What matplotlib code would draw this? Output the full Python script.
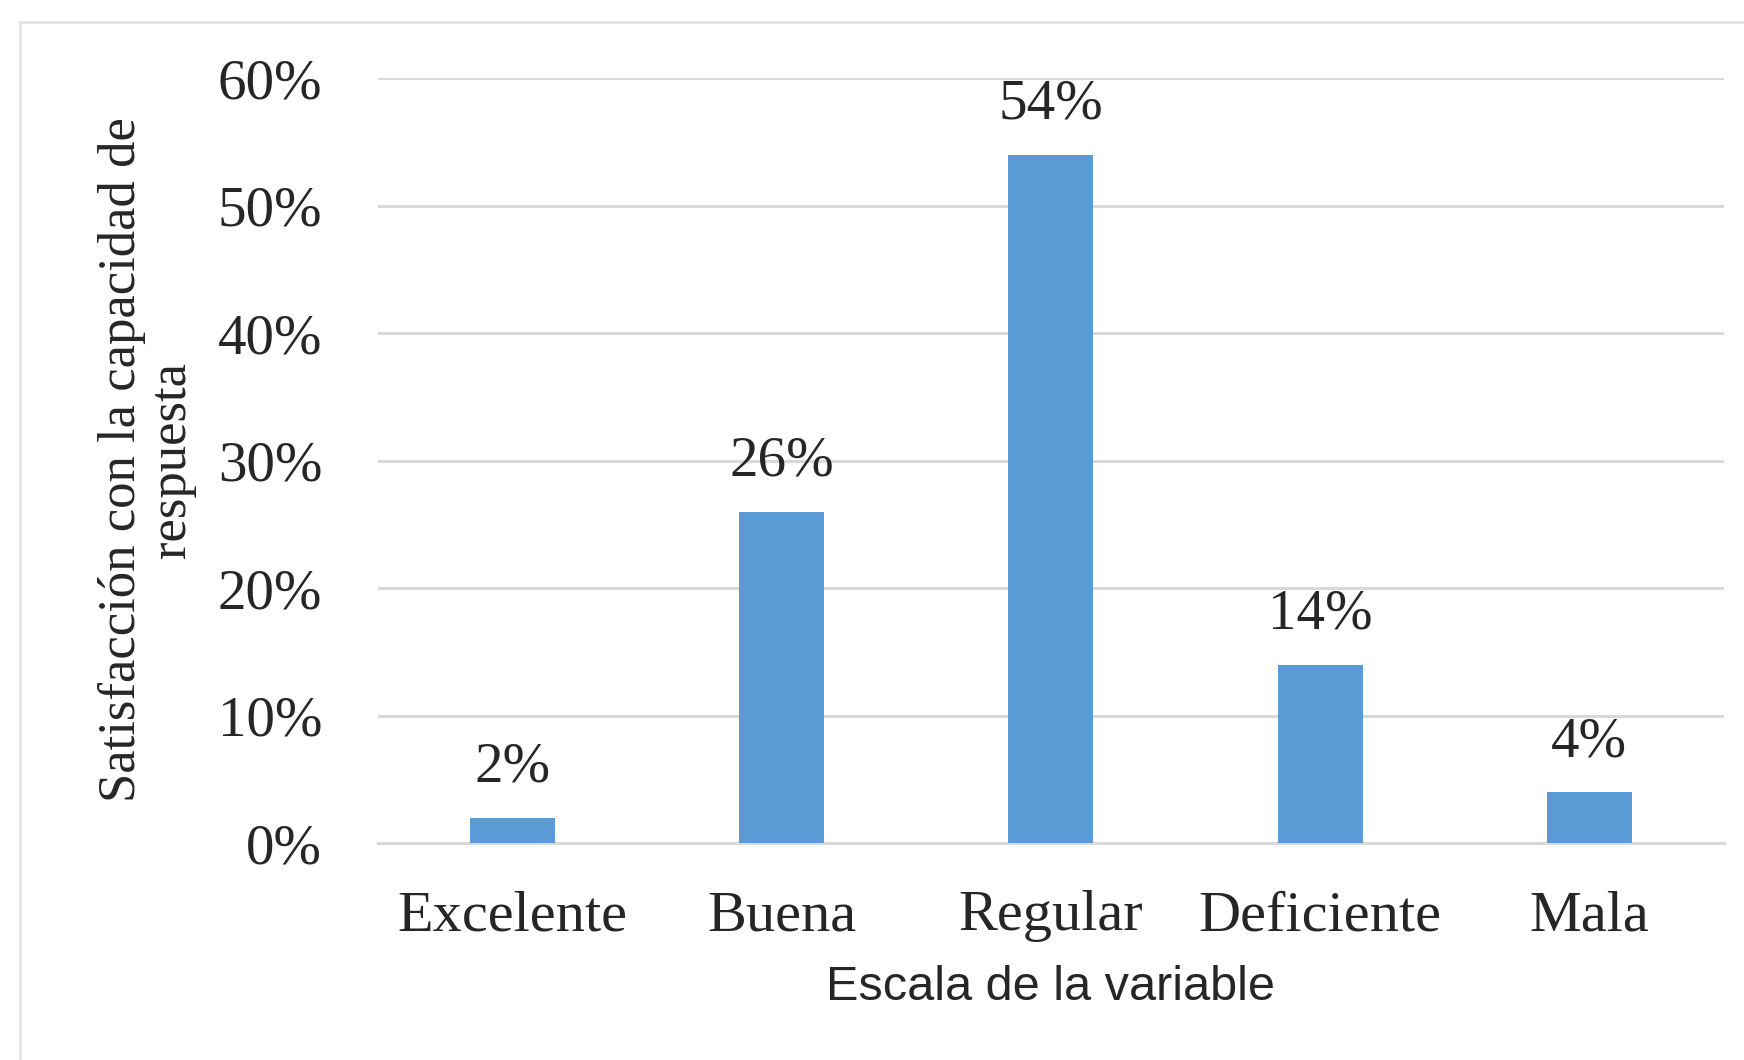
import matplotlib
matplotlib.use("Agg")
import matplotlib.pyplot as plt
from matplotlib.lines import Line2D

# data
categorias = ["Excelente", "Buena", "Regular", "Deficiente", "Mala"]
porcentajes = [2, 26, 54, 14, 4]
yticks = [0, 10, 20, 30, 40, 50, 60]

bar_color = "#5B9BD5"
grid_color = "#D9D9D9"
text_color = "#262626"
serif = ["Liberation Serif", "DejaVu Serif"]

fig = plt.figure(figsize=(17.44, 10.6), dpi=100)
ax = fig.add_axes([0.2167, 0.2047, 0.9885 - 0.2167, 0.9264 - 0.2047])

x = list(range(len(categorias)))
ax.bar(x, porcentajes, width=0.316, color=bar_color, zorder=3)

for xi, v in zip(x, porcentajes):
    ax.annotate(f"{v}%", (xi, v), xytext=(0, 36), textcoords="offset points",
                ha="center", va="center", fontsize=41, family=serif,
                color=text_color)

ax.set_xlim(-0.5, len(categorias) - 0.5)
ax.set_ylim(0, 60)
ax.set_yticks(yticks)
ax.set_yticklabels([f"{t}%" for t in yticks], family=serif, fontsize=41,
                   color=text_color)
ax.set_xticks(x)
ax.set_xticklabels(categorias, family=serif, fontsize=42, color=text_color)
ax.tick_params(axis="y", length=0, pad=40)
ax.tick_params(axis="x", length=0, pad=34)

ax.yaxis.grid(True, color=grid_color, linewidth=2.2, zorder=0)
ax.xaxis.grid(False)
for s in ["top", "right", "left"]:
    ax.spines[s].set_visible(False)
ax.spines["bottom"].set_color(grid_color)
ax.spines["bottom"].set_linewidth(2.2)

fig.text(1050 / 1744, 1 - 988 / 1060, "Escala de la variable",
         ha="center", va="center", fontsize=35,
         family=["Liberation Sans", "DejaVu Sans"], color=text_color)

fig.text(147 / 1744, 1 - 460 / 1060,
         "Satisfacción con la capacidad de\nrespuesta",
         rotation=90, ha="center", va="center", multialignment="center",
         fontsize=38, family=serif, color=text_color, linespacing=1.05)

# light frame around the chart (top and left edges visible)
fig.add_artist(Line2D([20 / 1744, 1.0], [1 - 22 / 1060] * 2,
                      transform=fig.transFigure, color="#E3E3E3", linewidth=2))
fig.add_artist(Line2D([20 / 1744] * 2, [0.0, 1 - 22 / 1060],
                      transform=fig.transFigure, color="#E3E3E3", linewidth=2))

fig.savefig("out.png", dpi=100, facecolor="white")
